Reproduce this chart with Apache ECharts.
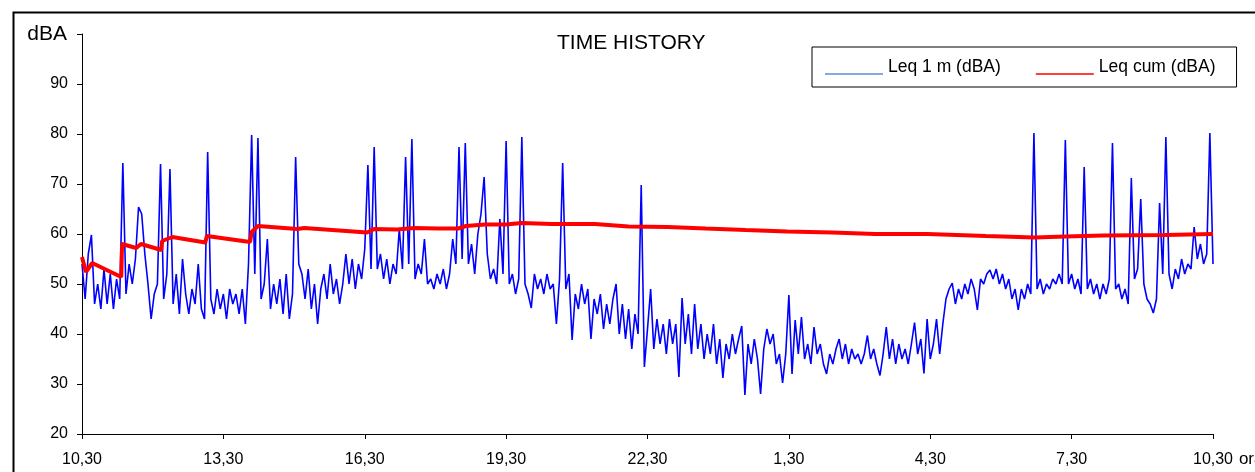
<!DOCTYPE html>
<html>
<head>
<meta charset="utf-8">
<style>html,body{margin:0;padding:0;background:#fff;}#c{width:1255px;height:472px;}</style>
<script src="https://cdn.jsdelivr.net/npm/echarts@6/dist/echarts.min.js"></script>
</head>
<body>
<div id="c"></div>
<script>
const tickLabels = ['10,30','13,30','16,30','19,30','22,30','1,30','4,30','7,30','10,30'];
const stepMinutes = 4;
const leq1m = [
54,47,56,59.8,46,50,45,53,46,52,
45,51,47,74.2,48,54,50,55,65.4,64,
56,50,43,48,50,74,47,52,73,46,
52,44,55,48,44,49,46,54,45,43,
76.4,47,44,49,45,48,43,49,46,48,
44,49,42,54,79.8,52,79.2,47,50,59,
45,50,46,51,44,52,43,48,75.4,54,
52,47,53,45,50,42,49,52,47,54,
48,51,46,50,56,50,55,49,54,51,
57,73.8,53,77.4,53,56,51,55,50,54,
52,61,53,75.4,54,79,51,54,52,59,
50,51,49,52,50,53,49,52,59,54,
77.4,55,78.2,54,58,52,60,64,71.4,56,
51,53,50,63,52,78.6,50,52,48,51,
79.4,50,48,45.2,52,49,51,48,52,49,
50,42,51,74.2,49,52,38.8,48,45,50,
46,49,39,47,44,48,41,46,42,47,
50,40,46,39,45,37,44,40,69.8,33.4,
41,49,37,43,38,42,36,43,38,42,
31.4,47.2,38,44,36,46,37,42,35,40,
36,42,34,39,31.2,38,35,40,36,39,
41.6,27.8,38,34,39,35,28,37,41,38,
40,34,36,30.2,36,47.8,32,42.8,36,43.4,
35,38,34,41.4,36,38,34,32,36,34,
37,39,35,38,34,37,35,36,34,36,
39.7,35,37,34,31.7,36,41.4,35,39,34,
38,35,37,34,38,42.3,36,39,32.1,43,
35,38,43,36,42,47,49,50.2,46,49,
47,50,48,51,49,44.8,51,50,52,52.8,
51,53,50,52,49,51,47,49,44.8,49,
47,50,48,80.2,49,51,48,50,49,51,
50,52,50,78.8,50,52,49,51,48,73.4,
49,51,48,50,47,50,48,51,78.2,49,
50,47,49,46,71.2,51,53,67,50,47,
46,44.2,47,66.2,52,79.4,52,49,53,51,
55,52,54,53,61.4,55,58,54,56,80.2,
54
];
const cumTimes = [0,5,13,50,51,69,75,101,102,115,157,159,214,216,224,274,283,363,372,401,423,453,479,489,513,539,560,598,653,696,746,794,845,898,955,1010,1076,1151,1213,1252,1300,1379,1440];
const cumValues = [55.4,52.4,54.2,51.4,58.0,57.2,58.0,56.8,58.6,59.4,58.3,59.6,58.4,60.4,61.6,61.0,61.2,60.3,61.0,60.9,61.2,61.1,61.1,61.6,61.9,61.9,62.2,62.0,62.0,61.5,61.4,61.1,60.8,60.5,60.3,60.0,60.0,59.6,59.3,59.5,59.7,59.8,60.0];

const FF = '"Liberation Sans", Arial, sans-serif';
// legend line drawn low inside its 58x16 box (Excel-style: line sits below text centre)
const legendIcon = 'path://M0,0L0.01,0L0.01,0.01L0,0.01Z M0,14L58,14L58,15.5L0,15.5Z';
const chart = echarts.init(document.getElementById('c'), null, {renderer:'canvas'});
chart.setOption({
  animation: false,
  backgroundColor: '#fff',
  title: {
    text: 'TIME HISTORY', left: 557, top: 33, padding: 0,
    textStyle: {fontFamily: FF, fontSize: 21, fontWeight: 'normal', color: '#000'}
  },
  legend: {
    left: 812, top: 47,
    padding: [11, 21, 11, 13],
    borderColor: '#000', borderWidth: 1,
    itemWidth: 58, itemHeight: 16, itemGap: 35,
    textStyle: {fontFamily: FF, fontSize: 17.5, color: '#000'},
    data: [
      {name: 'Leq 1 m (dBA)', icon: legendIcon, itemStyle: {color: '#5b8fd8'}},
      {name: 'Leq cum (dBA)', icon: legendIcon, itemStyle: {color: '#ff0000'}}
    ]
  },
  grid: {left: 82, right: 42, top: 34, bottom: 38, containLabel: false, outerBoundsMode: 'none'},
  xAxis: {
    type: 'value', min: 0, max: 1440, interval: 180,
    axisLine: {lineStyle: {color: '#000', width: 1}},
    axisTick: {show: true, length: 5, lineStyle: {color: '#000'}},
    splitLine: {show: false},
    axisLabel: {formatter: v => tickLabels[Math.round(v / 180)], color: '#000', fontFamily: FF, fontSize: 16, margin: 18},
    name: 'ora', nameLocation: 'end', nameGap: 20,
    nameTextStyle: {fontFamily: FF, fontSize: 17, color: '#000', align: 'left', verticalAlign: 'top', lineHeight: 50}
  },
  yAxis: {
    type: 'value', min: 20, max: 100, interval: 10,
    axisLine: {show: true, lineStyle: {color: '#000', width: 1}},
    axisTick: {show: true, length: 5, lineStyle: {color: '#000'}},
    splitLine: {show: false},
    axisLabel: {formatter: v => (v >= 100 ? '' : String(v)), color: '#000', fontFamily: FF, fontSize: 16, margin: 14},
    name: 'dBA', nameLocation: 'end', nameGap: 0,
    nameTextStyle: {fontFamily: FF, fontSize: 21, color: '#000', align: 'right', verticalAlign: 'middle', padding: [0, 15, 0, 0]}
  },
  graphic: [{
    type: 'rect', left: 11, top: 10, silent: true, z: -1,
    shape: {x: 0, y: 0, width: 1300, height: 500},
    style: {fill: 'none', stroke: '#000', lineWidth: 2}
  }],
  series: [
    {
      name: 'Leq 1 m (dBA)', type: 'line', showSymbol: false, symbol: 'none',
      data: leq1m.map((v, i) => [i * stepMinutes, v]),
      lineStyle: {color: '#0000ff', width: 1.6},
      itemStyle: {color: '#0000ff'}, z: 2
    },
    {
      name: 'Leq cum (dBA)', type: 'line', showSymbol: false, symbol: 'none',
      data: cumTimes.map((t, i) => [t, cumValues[i]]),
      lineStyle: {color: '#ff0000', width: 4},
      itemStyle: {color: '#ff0000'}, z: 3
    }
  ]
});
</script>
</body>
</html>
